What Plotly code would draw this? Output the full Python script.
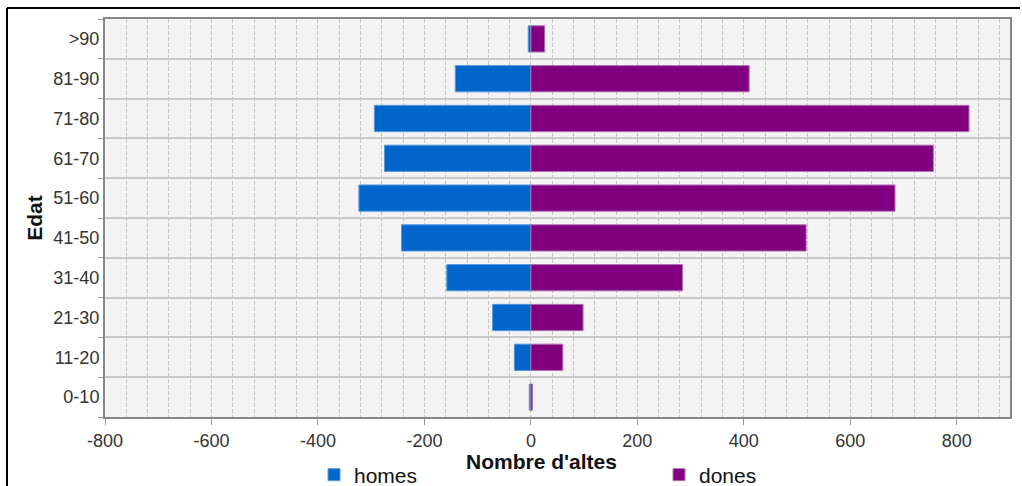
import plotly.graph_objects as go

# Data
age_groups = ["0-10", "11-20", "21-30", "31-40", "41-50", "51-60", "61-70", "71-80", "81-90", ">90"]
homes = [-3, -31, -72, -158, -243, -323, -275, -294, -142, -5]
dones = [3, 60, 98, 285, 517, 684, 756, 823, 410, 26]
x_tick_vals = [-800, -600, -400, -200, 0, 200, 400, 600, 800]
x_tick_text = [str(v) for v in x_tick_vals]
x_title = "Nombre d'altes"
y_title = "Edat"

W, H = 1022, 486
L, R, T, B = 105, 1010, 19, 417

TICKFONT = "Liberation Sans, Arial, sans-serif"
ARIAL = "Liberation Sans, Arial, sans-serif"

fig = go.Figure()
fig.add_trace(go.Bar(
    y=age_groups, x=homes, name="homes", orientation="h",
    marker=dict(color="#0066CC", line=dict(color="#5599DD", width=1)),
))
fig.add_trace(go.Bar(
    y=age_groups, x=dones, name="dones", orientation="h",
    marker=dict(color="#800080", line=dict(color="#B070B0", width=1)),
))

def px_x(p):
    return (p - L) / (R - L)

def px_y(p):
    return (B - p) / (B - T)

fig.update_layout(
    width=W, height=H,
    margin=dict(l=L, r=W - R, t=T, b=H - B, autoexpand=False),
    paper_bgcolor="white",
    plot_bgcolor="#F3F3F3",
    barmode="relative",
    bargap=0.34,
    font=dict(family=TICKFONT, size=18, color="#333333"),
    showlegend=True,
    legend=dict(
        orientation="h",
        xref="container", yref="container",
        x=314 / W, y=1 - 475 / H, xanchor="left", yanchor="middle",
        font=dict(family=ARIAL, size=21, color="#111111"),
        entrywidth=300, entrywidthmode="pixels",
        bgcolor="rgba(0,0,0,0)",
        traceorder="normal",
    ),
    xaxis=dict(
        range=[-800, 900],
        tickvals=x_tick_vals, ticktext=x_tick_text,
        automargin=True,
        ticks="outside", ticklen=6, tickcolor="#999999", tickwidth=1,
        showline=True, linecolor="#888888", linewidth=2, mirror=True,
        showgrid=True, gridcolor="#C4C4C4", gridwidth=1, griddash="4px,2px",
        minor=dict(dtick=40, tick0=0, showgrid=True, gridcolor="#C4C4C4",
                   gridwidth=1, griddash="4px,2px", ticks=""),
        zeroline=False,
        tickfont=dict(family=TICKFONT, size=18, color="#333333"),
    ),
    yaxis=dict(
        type="category",
        automargin=True,
        tickson="boundaries",
        ticks="outside", ticklen=5, tickcolor="#999999", tickwidth=1,
        showline=True, linecolor="#888888", linewidth=2, mirror=True,
        showgrid=True, gridcolor="#C8C8C8", gridwidth=1.5,
        tickfont=dict(family=TICKFONT, size=18, color="#333333"),
        title=dict(text="<b>" + y_title + "</b>", standoff=5,
                   font=dict(family=ARIAL, size=21, color="#111111")),
    ),
    annotations=[
        dict(text="<b>" + x_title + "</b>", xref="paper", yref="paper",
             x=px_x(541), y=px_y(461), xanchor="center", yanchor="middle",
             showarrow=False, font=dict(family=ARIAL, size=21, color="#111111")),
    ],
    shapes=[
        dict(type="line", xref="paper", yref="paper",
             x0=px_x(7), x1=px_x(1020), y0=px_y(8), y1=px_y(8),
             line=dict(color="black", width=2), layer="above"),
        dict(type="line", xref="paper", yref="paper",
             x0=px_x(7), x1=px_x(7), y0=px_y(8), y1=px_y(490),
             line=dict(color="black", width=2), layer="above"),
    ],
)

fig.write_html("out.html", config={"displayModeBar": False},
               post_script="document.body.style.margin='0px';")
